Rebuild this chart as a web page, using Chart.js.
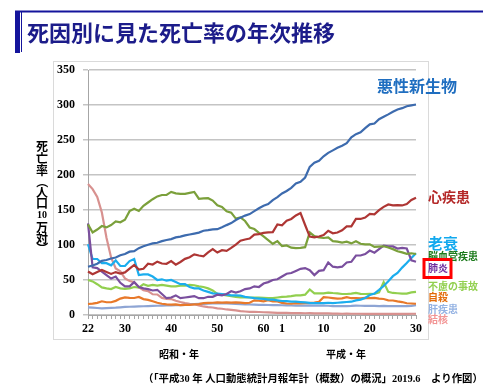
<!DOCTYPE html>
<html>
<head>
<meta charset="utf-8">
<script src="https://cdn.jsdelivr.net/npm/chart.js@4.4.1/dist/chart.umd.min.js"></script>
<style>
  html, body { margin: 0; padding: 0; background: #fff; }
  canvas { display: block; }
</style>
</head>
<body>
<canvas id="chart" width="504" height="391"></canvas>
<script>
// 昭和22年(1947) 〜 平成30年(2018)
const years = [];
for (let y = 22; y <= 63; y++) years.push('S' + y);
for (let y = 1; y <= 30; y++) years.push('H' + y);

// tick labels shown under the axis
const tickLabels = { S22: '22', S30: '30', S40: '40', S50: '50', S60: '60', H1: '1', H10: '10', H20: '20', H30: '30' };

// death rates per 100,000
const cancer = [69.0, 70.8, 73.2, 77.4, 78.5, 80.8, 82.2, 85.3, 87.1, 90.5,
  91.3, 95.5, 98.2, 100.4, 102.3, 103.2, 105.5, 107.2, 108.4, 110.8,
  111.9, 113.7, 115.0, 116.3, 117.7, 120.4, 121.2, 122.2, 122.6, 125.3,
  128.4, 131.3, 135.7, 139.1, 142.0, 144.2, 148.3, 152.5, 156.1, 158.5,
  164.2, 168.4, 173.6, 177.2, 181.7, 187.8, 190.4, 196.4, 211.6, 217.5,
  220.4, 226.7, 231.6, 235.2, 238.8, 241.7, 245.4, 253.9, 258.3, 261.0,
  266.9, 272.3, 273.5, 279.7, 283.2, 286.6, 290.3, 293.5, 295.5, 298.3,
  299.5, 300.7];
const heart = [62.2, 58.2, 61.5, 64.2, 61.5, 58.7, 61.3, 59.3, 60.9, 66.3,
  71.6, 64.8, 66.0, 73.2, 72.1, 76.2, 73.6, 73.2, 77.0, 71.9,
  75.7, 80.2, 82.6, 86.7, 85.0, 83.8, 89.4, 94.2, 89.2, 92.5,
  91.6, 95.8, 100.5, 106.2, 107.9, 109.2, 114.9, 115.5, 117.3, 117.9,
  118.4, 129.4, 128.1, 134.8, 137.2, 142.2, 145.6, 128.6, 112.0, 110.8,
  112.2, 114.3, 120.4, 116.8, 117.8, 121.0, 126.5, 126.5, 137.2, 137.2,
  139.2, 144.4, 143.7, 149.8, 154.5, 157.9, 156.5, 157.0, 156.5, 158.4,
  164.3, 167.6];
const cerebro = [129.4, 117.9, 122.1, 127.1, 125.2, 128.5, 133.7, 132.4, 136.1, 148.4,
  151.7, 148.6, 155.9, 160.7, 165.4, 169.4, 171.4, 171.7, 175.8, 173.8,
  173.1, 173.1, 174.4, 175.8, 166.1, 166.7, 166.9, 163.5, 156.7, 154.5,
  148.2, 146.2, 137.7, 139.5, 134.3, 125.0, 122.8, 117.2, 112.2, 106.9,
  101.7, 105.5, 98.5, 99.4, 96.2, 95.6, 96.0, 96.9, 117.9, 112.6,
  111.0, 110.0, 110.8, 105.5, 104.7, 103.4, 104.7, 102.3, 105.3, 101.7,
  100.8, 100.9, 97.2, 97.7, 98.2, 96.5, 94.1, 91.1, 89.4, 87.4,
  88.2, 87.1];
const pneumonia = [131, 68, 67, 62, 57, 52, 55, 46, 41, 41,
  47, 40, 38, 37, 35, 36, 30, 24, 25, 28,
  24, 25, 26, 27, 24, 24, 26, 26, 29, 28,
  30, 34, 32, 34, 37, 38, 41, 40, 45, 47,
  50, 51, 55, 59, 60, 63, 66, 67, 64, 57,
  63, 64, 75, 69, 68, 69, 75, 76, 85, 85,
  87, 92, 89, 94, 99, 98, 98, 95, 96, 95,
  78, 76];
const senility = [101, 80, 80, 74, 74, 71, 78, 70, 70, 77,
  80, 57, 58, 58, 55, 50, 51, 49, 50, 47,
  44, 44, 40, 38, 38, 35, 33, 31, 30.5, 30,
  29, 28, 28, 27.6, 26, 25, 24, 23.5, 23, 22,
  22, 21, 20, 19.7, 19, 19, 18.5, 18, 17.3, 17,
  17, 17, 17.5, 16.9, 17.5, 18, 18.6, 19, 20.9, 22,
  24.4, 28.6, 30.7, 35.9, 41.4, 48.2, 55.5, 60.1, 67.7, 74.2,
  81.3, 88.2];
const accident = [50, 48, 44, 39.5, 38, 37, 40, 38, 37.3, 38,
  40, 39, 44, 41.7, 43, 42, 43, 42, 40.9, 41,
  42, 42, 43, 42.5, 41, 40, 38, 35, 30.3, 29,
  28, 27, 26, 25.1, 25, 25, 25, 25, 24.6, 24,
  24, 25, 26, 26.2, 27, 28, 28, 29, 36.5, 31,
  31, 31, 32, 31.4, 31, 30, 30, 30.5, 31.6, 30.3,
  30, 30.3, 30, 32.2, 47.1, 33, 31.5, 31.1, 30.6, 30.6,
  32.4, 33.1];
const suicide = [15.7, 16.3, 17.3, 19.6, 18.2, 18.2, 20.2, 23.4, 25.2, 24.5,
  24.3, 25.7, 22.7, 21.6, 19.6, 17.5, 16.1, 15.1, 14.7, 15.2,
  14.2, 14.5, 14.5, 15.3, 15.6, 17.0, 17.4, 17.5, 18.0, 17.6,
  17.9, 17.6, 18.0, 17.7, 17.1, 17.5, 21.0, 20.4, 19.4, 21.2,
  19.6, 19.4, 17.3, 16.4, 16.1, 16.9, 16.6, 16.9, 17.2, 17.8,
  18.8, 25.4, 25.0, 24.1, 23.3, 23.8, 25.5, 24.0, 24.2, 23.7,
  24.4, 24.0, 24.4, 23.4, 22.9, 21.0, 20.7, 19.5, 18.5, 16.8,
  16.4, 16.1];
const liver = [11, 10.5, 10, 9.5, 9.8, 10.2, 10.5, 11, 11.5, 11.8,
  12, 12.3, 12.5, 12.8, 13, 13.2, 13.5, 13.6, 13.8, 14,
  14.2, 14.5, 14.8, 15.5, 15.8, 16, 16.2, 16.5, 16.8, 16.7,
  16.5, 16.2, 15.8, 15.5, 15.2, 15, 14.8, 14.6, 14.4, 14.3,
  14.2, 14, 13.9, 13.8, 13.6, 13.5, 13.4, 13.3, 13.7, 13.5,
  13.4, 13.3, 13.2, 12.8, 12.7, 12.7, 12.8, 12.9, 13.5, 13.2,
  13.0, 13.0, 12.9, 12.8, 12.9, 12.8, 12.6, 12.6, 12.6, 12.6,
  13.0, 14.1];
const tb = [187.2, 179.9, 168.8, 146.4, 110.3, 82.2, 66.5, 62.4, 52.3, 48.6,
  46.9, 39.7, 35.5, 34.2, 29.6, 29.3, 24.4, 23.0, 22.8, 20.3,
  18.5, 17.0, 16.0, 15.4, 13.7, 12.2, 11.3, 10.7, 9.5, 8.9,
  7.9, 7.3, 6.5, 5.5, 5.0, 4.6, 4.5, 4.3, 3.9, 3.8,
  3.5, 3.1, 3.1, 3.0, 2.7, 2.6, 2.6, 2.5, 2.6, 2.3,
  2.2, 2.2, 2.3, 2.1, 2.0, 1.8, 1.9, 1.8, 1.8, 1.8,
  1.7, 1.8, 1.7, 1.7, 1.7, 1.7, 1.7, 1.7, 1.5, 1.5,
  1.8, 1.8];

const JP = "'Noto Sans CJK JP', sans-serif";
const SERIF = "'Liberation Serif', 'Noto Sans CJK JP', serif";

// labels to the right of the plot
const seriesLabels = [
  { text: '悪性新生物', color: '#1F6EC0', size: 16, x: 377, y: 86 },
  { text: '心疾患', color: '#B42828', size: 14, x: 428, y: 197 },
  { text: '老衰', color: '#12A9EE', size: 15, x: 428, y: 243 },
  { text: '脳血管疾患', color: '#1B7A1B', size: 10, x: 428, y: 256 },
  { text: '肺炎', color: '#7030A0', size: 10, x: 428, y: 268 },
  { text: '不慮の事故', color: '#92D050', size: 10, x: 428, y: 286 },
  { text: '自殺', color: '#E36C0A', size: 10, x: 428, y: 297.5 },
  { text: '肝疾患', color: '#95B3E3', size: 10, x: 428, y: 309 },
  { text: '結核', color: '#F29494', size: 10, x: 428, y: 319.5 }
];

const sourceNote = '（「平成30 年 人口動態統計月報年計（概数）の概況」2019.6　より作図）';

const decor = {
  id: 'decor',
  beforeDraw(chart) {
    const c = chart.ctx;
    c.save();
    c.fillStyle = '#fff';
    c.fillRect(0, 0, chart.width, chart.height);
    // title bar
    c.fillStyle = '#14149C';
    c.fillRect(15, 10.5, 468, 2);
    c.fillRect(15, 11, 5, 42);
    c.fillRect(21, 12, 1, 40);
    // plot frame
    c.strokeStyle = '#DADADA';
    c.lineWidth = 1;
    c.strokeRect(53.5, 61.5, 375, 278);
    c.restore();
  },
  afterDraw(chart) {
    const c = chart.ctx;
    c.save();
    c.textBaseline = 'middle';
    // title
    c.fillStyle = '#1C1C8A';
    c.font = 'bold 22px ' + JP;
    c.textAlign = 'left';
    c.fillText('死因別に見た死亡率の年次推移', 27, 33);

    // vertical y-axis title
    c.fillStyle = '#000';
    c.textAlign = 'center';
    const vchars = [['死', 146], ['亡', 158], ['率', 170], ['（', 182, true], ['人', 192],
      ['口', 203], ['10', 215], ['万', 227], ['対', 238.5], ['）', 248, true]];
    vchars.forEach(([ch, y, rot]) => {
      if (ch === '10') c.font = 'bold 10px ' + SERIF;
      else c.font = 'bold 12px ' + JP;
      if (rot) {
        c.save();
        c.translate(42, y);
        c.rotate(Math.PI / 2);
        c.fillText(ch, 0, 0);
        c.restore();
      } else {
        c.fillText(ch, 42, y);
      }
    });

    // series labels
    c.textAlign = 'left';
    seriesLabels.forEach(l => {
      c.fillStyle = l.color;
      c.font = 'bold ' + l.size + 'px ' + JP;
      c.fillText(l.text, l.x, l.y);
    });
    c.strokeStyle = '#FF0000';
    c.lineWidth = 3;
    c.strokeRect(424, 259.5, 27, 18);

    // era labels
    c.fillStyle = '#000';
    c.textAlign = 'center';
    c.font = 'bold 10px ' + JP;
    c.fillText('昭和・年', 179, 354);
    c.fillText('平成・年', 346, 354);

    // source note, fitted to 143..483
    c.textAlign = 'left';
    c.font = 'bold 11px ' + SERIF;
    const w = c.measureText(sourceNote).width;
    const fs = Math.min(11, 11 * 340 / w);
    c.font = 'bold ' + fs.toFixed(2) + 'px ' + SERIF;
    c.fillText(sourceNote, 143, 379);
    c.restore();
  }
};

const series = [
  { label: '悪性新生物', data: cancer, color: '#3D6BAE' },
  { label: '心疾患', data: heart, color: '#AE3634' },
  { label: '脳血管疾患', data: cerebro, color: '#7BA03B' },
  { label: '肺炎', data: pneumonia, color: '#7A4F9E' },
  { label: '老衰', data: senility, color: '#1BADEE' },
  { label: '不慮の事故', data: accident, color: '#92CF4F' },
  { label: '自殺', data: suicide, color: '#E8792A' },
  { label: '肝疾患', data: liver, color: '#8EA5D4' },
  { label: '結核', data: tb, color: '#D8918F' }
];

new Chart(document.getElementById('chart'), {
  type: 'line',
  data: {
    labels: years,
    datasets: series.map(s => ({
      label: s.label,
      data: s.data,
      borderColor: s.color,
      backgroundColor: s.color,
      borderWidth: 2.2,
      pointRadius: 0,
      tension: 0,
      fill: false
    }))
  },
  options: {
    responsive: false,
    animation: false,
    layout: { padding: { left: 54, top: 70, right: 88, bottom: 54 } },
    plugins: {
      legend: { display: false },
      tooltip: { enabled: false }
    },
    scales: {
      x: {
        offset: false,
        grid: { drawOnChartArea: false, drawTicks: true, tickLength: 4, color: '#A6A6A6' },
        border: { color: '#A6A6A6', width: 1 },
        ticks: {
          autoSkip: false,
          maxRotation: 0,
          padding: 3,
          color: '#000',
          font: { family: SERIF, size: 12, weight: 'bold' },
          callback: (v, i) => tickLabels[years[i]] || ''
        },
        afterFit: s => { s.height = 22; }
      },
      y: {
        min: 0,
        max: 350,
        ticks: {
          stepSize: 50,
          padding: 8,
          color: '#000',
          font: { family: SERIF, size: 12, weight: 'bold' }
        },
        grid: { color: '#C4C4C4', lineWidth: 1.5, tickLength: 5 },
        border: { color: '#A6A6A6', width: 1 },
        afterFit: s => { s.width = 34; }
      }
    }
  },
  plugins: [decor]
});
</script>
</body>
</html>
